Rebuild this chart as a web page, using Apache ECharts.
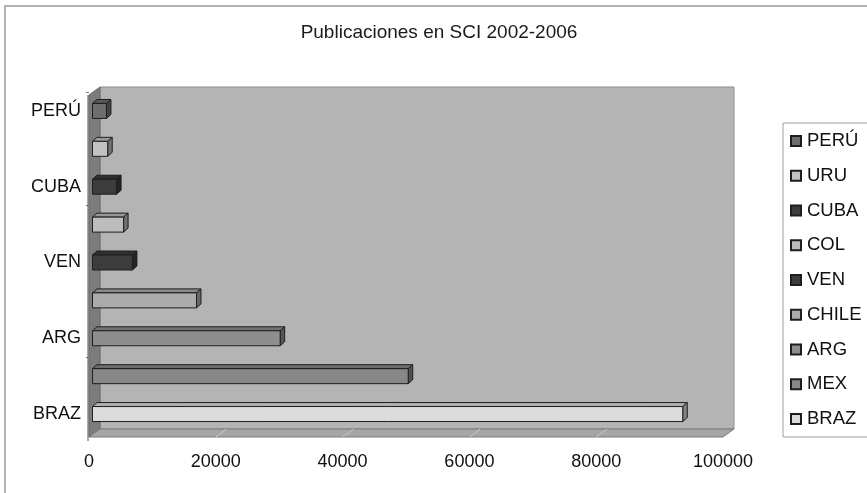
<!DOCTYPE html>
<html>
<head>
<meta charset="utf-8">
<script src="https://cdn.jsdelivr.net/npm/echarts@6/dist/echarts.min.js"></script>
<style>
html,body{margin:0;padding:0;background:#fff;}
#c{width:867px;height:493px;}
</style>
</head>
<body>
<div id="c"></div>
<script>
// ---- data ----
const categories = ['BRAZ', 'MEX', 'ARG', 'CHILE', 'VEN', 'COL', 'CUBA', 'URU', 'PERÚ'];
const publications = [93100, 49800, 29600, 16400, 6300, 4900, 3800, 2400, 2200];
const xMin = 0, xMax = 100000, xStep = 20000;
const titleText = 'Publicaciones en SCI 2002-2006';

// ---- styles ----
const barColors = ['#dcdcdc', '#878787', '#8e8e8e', '#ababab', '#3c3c3c', '#bdbdbd', '#3c3c3c', '#c2c2c2', '#6e6e6e'];
const FONT = "'Liberation Sans', Arial, sans-serif";
const G = { left: 89, top: 92, right: 723, bottom: 433 };   // front plane of the grid
const DEPTH = { dx: 11, dy: -8 };                              // wall depth
const BAR = { h: 15, off: 3.5, dx: 4.5, dy: -4 };

function shade(hex, f) {
  const n = parseInt(hex.slice(1), 16);
  const r = Math.round(((n >> 16) & 255) * f), g = Math.round(((n >> 8) & 255) * f), b = Math.round((n & 255) * f);
  return 'rgb(' + Math.min(255, r) + ',' + Math.min(255, g) + ',' + Math.min(255, b) + ')';
}

const chart = echarts.init(document.getElementById('c'), null, { renderer: 'canvas' });

function renderBar(params, api) {
  const cat = api.value(1), v = api.value(0);
  const a = api.coord([0, cat]);
  const b = api.coord([v, cat]);
  const x0 = a[0] + BAR.off, x1 = b[0] + BAR.off;
  const yc = a[1];
  const top = yc - BAR.h / 2, bot = yc + BAR.h / 2;
  const col = barColors[params.seriesIndex];
  const stroke = { stroke: '#1e1e1e', lineWidth: 1 };
  return {
    type: 'group',
    children: [
      { type: 'polygon', shape: { points: [[x0, top], [x0 + BAR.dx, top + BAR.dy], [x1 + BAR.dx, top + BAR.dy], [x1, top]] },
        style: Object.assign({ fill: shade(col, 0.8) }, stroke) },
      { type: 'polygon', shape: { points: [[x1, top], [x1 + BAR.dx, top + BAR.dy], [x1 + BAR.dx, bot + BAR.dy], [x1, bot]] },
        style: Object.assign({ fill: shade(col, 0.6) }, stroke) },
      { type: 'rect', shape: { x: x0, y: top, width: x1 - x0, height: BAR.h },
        style: Object.assign({ fill: col }, stroke) }
    ]
  };
}

const series = categories.map((name, i) => ({
  name: name,
  type: 'custom',
  renderItem: renderBar,
  encode: { x: 0, y: 1 },
  data: [[publications[i], i]],
  itemStyle: { color: barColors[i], borderColor: '#1e1e1e', borderWidth: 1 },
  z: 5
}));

// walls (decoration, derived from grid constants)
const L = G.left, FT = G.top + 3, FB = G.bottom + 4;
const bwL = L + DEPTH.dx, bwT = FT + DEPTH.dy, bwB = FB + DEPTH.dy, bwR = G.right + DEPTH.dx;
const wallGraphics = [
  { type: 'polyline', shape: { points: [[5, 493], [5, 6], [867, 6]] }, style: { stroke: '#9a9a9a', lineWidth: 1.5, fill: null }, z: 0 },
  { type: 'rect', shape: { x: bwL, y: bwT, width: bwR - bwL, height: bwB - bwT }, style: { fill: '#b4b4b4', stroke: '#8c8c8c', lineWidth: 1 }, z: 0 },
  { type: 'polygon', shape: { points: [[L, FT], [bwL, bwT], [bwL, bwB], [L, FB]] }, style: { fill: '#7c7c7c', stroke: '#6a6a6a', lineWidth: 1 }, z: 0 },
  { type: 'polygon', shape: { points: [[L, FB], [bwL, bwB], [bwR, bwB], [G.right, FB]] }, style: { fill: '#a6a6a6', stroke: '#7a7a7a', lineWidth: 1 }, z: 0 },
  { type: 'line', shape: { x1: L - 1, y1: FT, x2: L - 1, y2: FB + 4 }, style: { stroke: '#555', lineWidth: 1 }, z: 1 }
];

const option = {
  animation: false,
  backgroundColor: '#fff',
  title: {
    text: titleText,
    left: 439, top: 23, textAlign: 'center', padding: 0,
    textStyle: { fontFamily: FONT, fontSize: 19, fontWeight: 'normal', color: '#1a1a1a' }
  },
  legend: {
    orient: 'vertical',
    left: 783, top: 123,
    data: categories.slice().reverse(),
    icon: 'rect',
    itemWidth: 10, itemHeight: 10,
    itemGap: 14.75,
    padding: [8, 14, 8, 7],
    borderColor: '#a0a0a0', borderWidth: 1,
    backgroundColor: '#fff',
    textStyle: { fontFamily: FONT, fontSize: 18.5, color: '#111', lineHeight: 20, padding: [0, 0, 0, 1] },
    selectedMode: false
  },
  grid: { left: G.left, top: G.top, width: G.right - G.left, height: G.bottom - G.top, containLabel: false },
  xAxis: {
    type: 'value', min: xMin, max: xMax, interval: xStep,
    axisLine: { show: false }, axisTick: { show: false }, splitLine: { show: false },
    axisLabel: { fontFamily: FONT, fontSize: 18, color: '#111', margin: 20, formatter: function (v) { return String(v); } }
  },
  yAxis: {
    type: 'category', data: categories,
    axisLine: { show: false },
    axisTick: { show: true, length: 3, lineStyle: { color: '#777' }, interval: function (idx) { return idx === 2 || idx === 6; } },
    axisLabel: { fontFamily: FONT, fontSize: 18, color: '#111', margin: 8, interval: 1 }
  },
  graphic: { elements: wallGraphics },
  series: series
};

chart.setOption(option);

const floorLines = [];
for (let v = xMin + xStep; v < xMax; v += xStep) {
  const px = chart.convertToPixel({ xAxisIndex: 0 }, v);
  floorLines.push({ type: 'line', shape: { x1: px, y1: FB, x2: px + DEPTH.dx, y2: bwB }, style: { stroke: '#c8c8c8', lineWidth: 1 }, z: 1 });
}
chart.setOption({ graphic: { elements: wallGraphics.concat(floorLines) } });
</script>
</body>
</html>
